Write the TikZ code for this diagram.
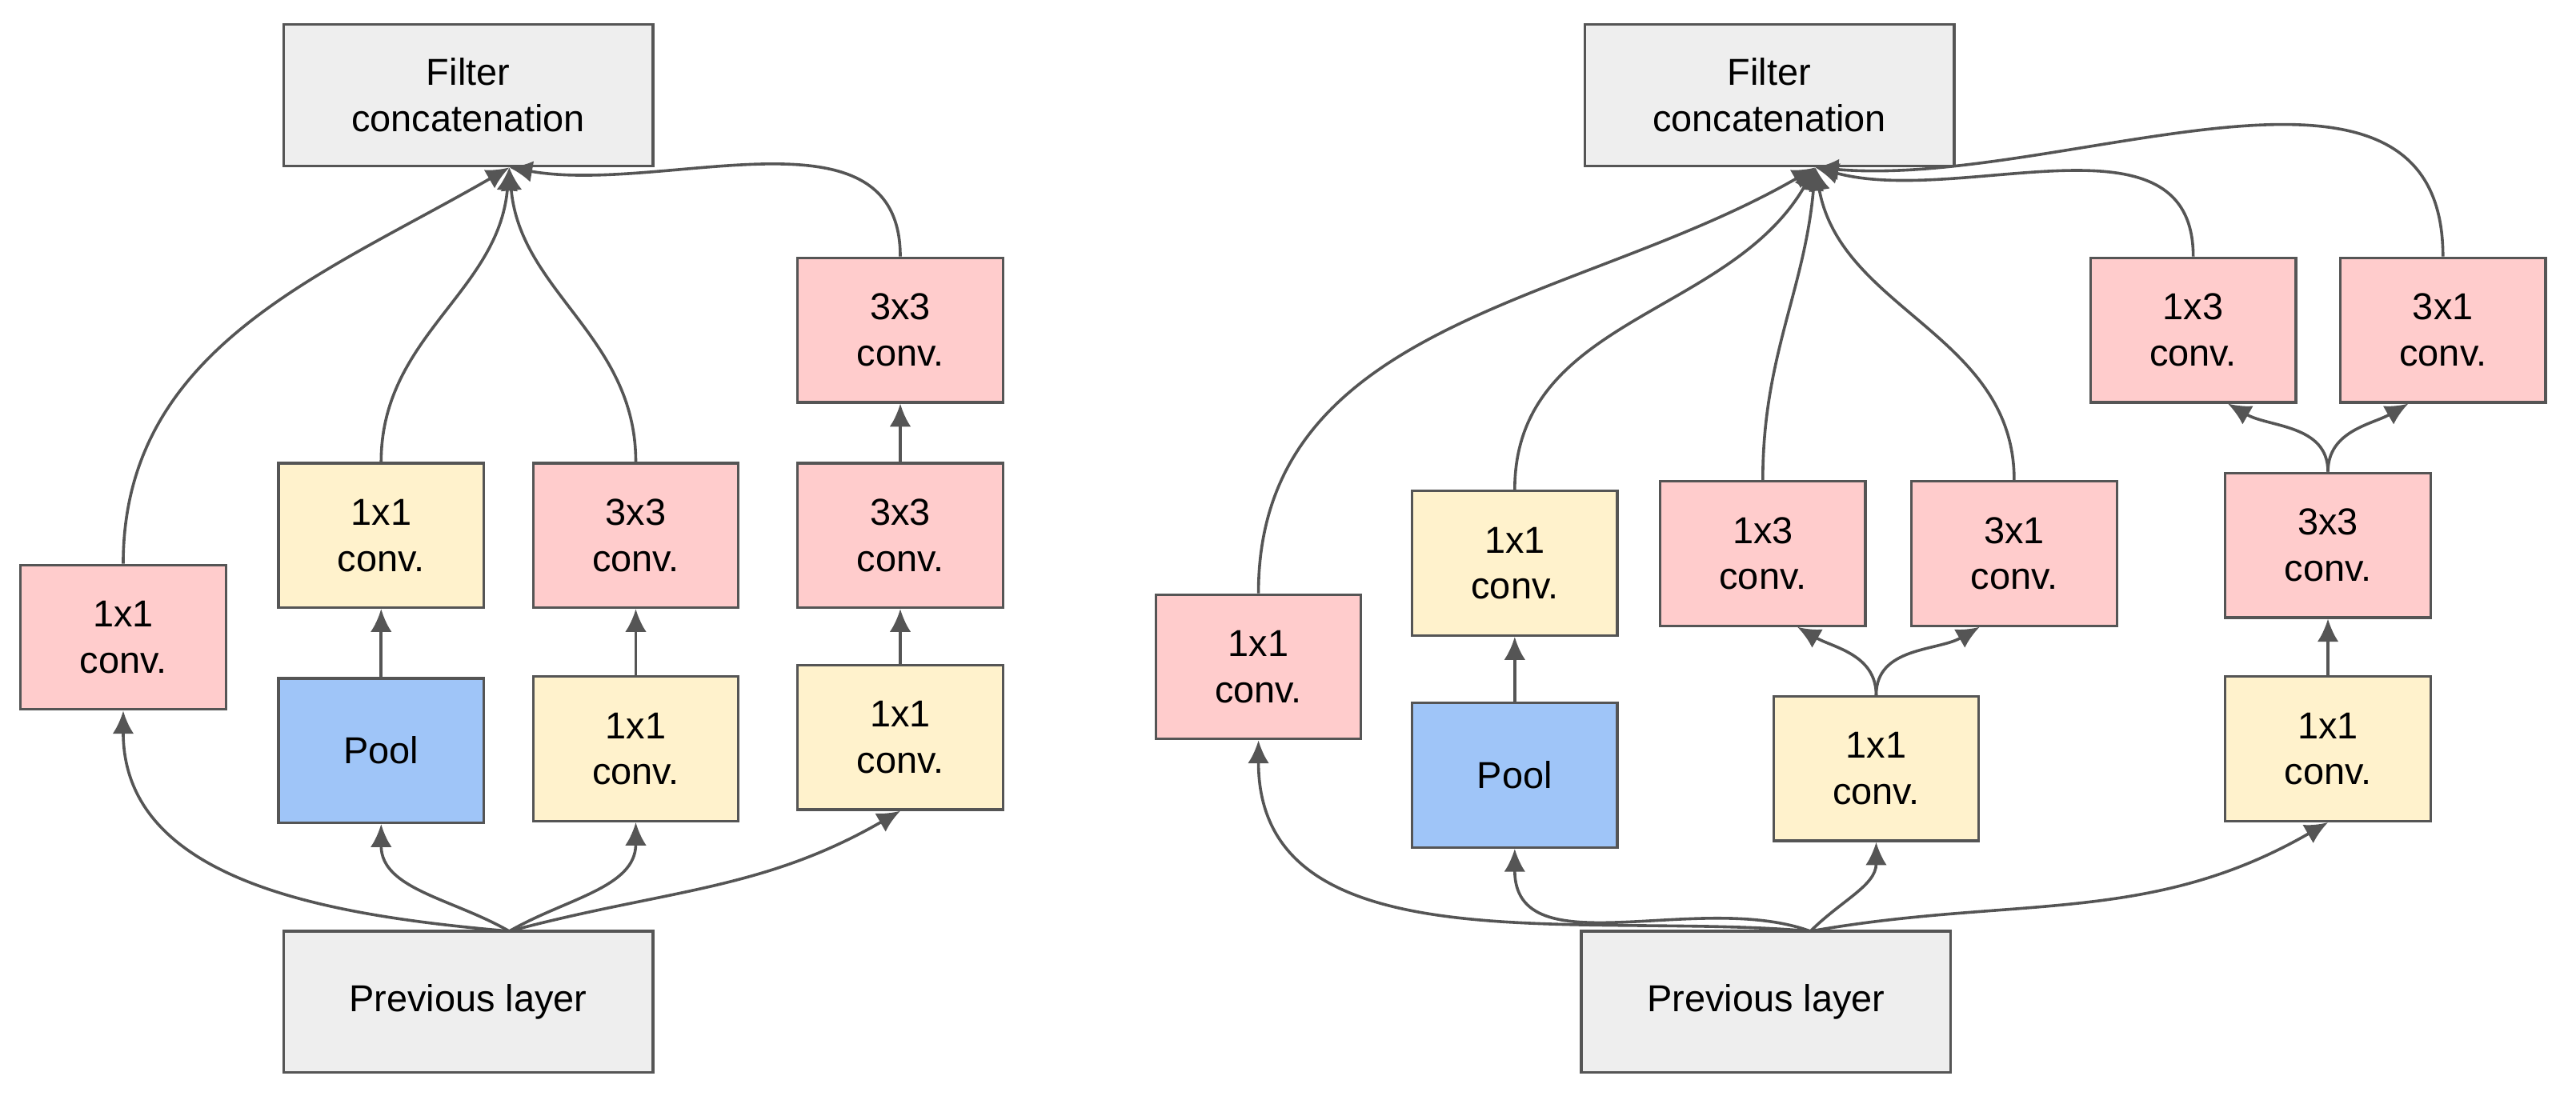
\documentclass[tikz,border=0pt]{standalone}
\usepackage{fontspec}
\setmainfont{Liberation Sans}
\usetikzlibrary{arrows.meta}
\definecolor{edge}{HTML}{555555}
\definecolor{graybox}{HTML}{EEEEEE}
\definecolor{pinkbox}{HTML}{FFCCCC}
\definecolor{yellowbox}{HTML}{FFF2CC}
\definecolor{bluebox}{HTML}{9FC5F8}
\begin{document}
\begin{tikzpicture}[
    x=0.02cm, y=-0.02cm,
    >={Latex[length=2.8mm,width=2.6mm]},
    box/.style={draw=edge, line width=0.9pt, minimum width=2.5cm, minimum height=1.76cm, align=center, font=\fontsize{13}{16}\selectfont},
    layer/.style={box, fill=graybox, minimum width=4.5cm, minimum height=1.72cm},
    conv/.style={box, fill=pinkbox},
    red/.style={box, fill=yellowbox},
    pool/.style={box, fill=bluebox},
    link/.style={draw=edge, line width=1pt}
]
\useasboundingbox (0,0) rectangle (1568,672);

% Left module
\node[layer] (concatA) at (285,58) {Filter\\concatenation};
\node[layer] (prevA) at (285,610) {Previous layer};
\node[conv] (cA1) at (75,388) {1x1\\conv.};
\node[red] (rA1) at (232,326) {1x1\\conv.};
\node[pool] (pA) at (232,457) {Pool};
\node[conv] (cA2) at (387,326) {3x3\\conv.};
\node[red] (rA2) at (387,456) {1x1\\conv.};
\node[conv] (cA3) at (548,201) {3x3\\conv.};
\node[conv] (cA4) at (548,326) {3x3\\conv.};
\node[red] (rA3) at (548,449) {1x1\\conv.};
\coordinate (inA) at (310,102);
\coordinate (outA) at (310,567);

\draw[link,->] (outA) to[out=175,in=-90] (cA1.south);
\draw[link,->] (outA) to[out=150,in=-90] (pA.south);
\draw[link,->] (outA) to[out=30,in=-90] (rA2.south);
\draw[link,->] (outA) to[out=15,in=-150] (rA3.south);
\draw[link,->] (pA) -- (rA1);
\draw[link,->] (rA2) -- (cA2);
\draw[link,->] (rA3) -- (cA4);
\draw[link,->] (cA4) -- (cA3);
\draw[link,->] (cA1.north) to[out=90,in=-150] (inA);
\draw[link,->] (rA1.north) to[out=90,in=-95] (inA);
\draw[link,->] (cA2.north) to[out=90,in=-85] (inA);
\draw[link,->] (cA3.north) to[out=90,in=-10] (inA);

% Right module
\node[layer] (concatB) at (1077,58) {Filter\\concatenation};
\node[layer] (prevB) at (1075,610) {Previous layer};
\node[conv] (cB1) at (766,406) {1x1\\conv.};
\node[red] (rB1) at (922,343) {1x1\\conv.};
\node[pool] (pB) at (922,472) {Pool};
\node[conv] (cB2) at (1073,337) {1x3\\conv.};
\node[conv] (cB3) at (1226,337) {3x1\\conv.};
\node[red] (rB2) at (1142,468) {1x1\\conv.};
\node[conv] (cB4) at (1335,201) {1x3\\conv.};
\node[conv] (cB5) at (1487,201) {3x1\\conv.};
\node[conv] (cB6) at (1417,332) {3x3\\conv.};
\node[red] (rB3) at (1417,456) {1x1\\conv.};
\coordinate (inB) at (1105,102);
\coordinate (outB) at (1102,567);

\draw[link,->] (outB) to[out=175,in=-90] (cB1.south);
\draw[link,->] (outB) to[out=160,in=-90] (pB.south);
\draw[link,->] (outB) to[out=45,in=-90] (rB2.south);
\draw[link,->] (outB) to[out=10,in=-150] (rB3.south);
\draw[link,->] (pB) -- (rB1);
\draw[link,->] (rB2.north) to[out=90,in=-30] ([xshift=12]cB2.south);
\draw[link,->] (rB2.north) to[out=90,in=-150] ([xshift=-12]cB3.south);
\draw[link,->] (rB3) -- (cB6);
\draw[link,->] (cB6.north) to[out=90,in=-30] ([xshift=12]cB4.south);
\draw[link,->] (cB6.north) to[out=90,in=-150] ([xshift=-12]cB5.south);
\draw[link,->] (cB1.north) to[out=90,in=-150] (inB);
\draw[link,->] (rB1.north) to[out=90,in=-120] (inB);
\draw[link,->] (cB2.north) to[out=90,in=-95] (inB);
\draw[link,->] (cB3.north) to[out=90,in=-80] (inB);
\draw[link,->] (cB4.north) to[out=90,in=-15] (inB);
\draw[link,->] (cB5.north) to[out=90,in=-5] (inB);
\end{tikzpicture}
\end{document}
